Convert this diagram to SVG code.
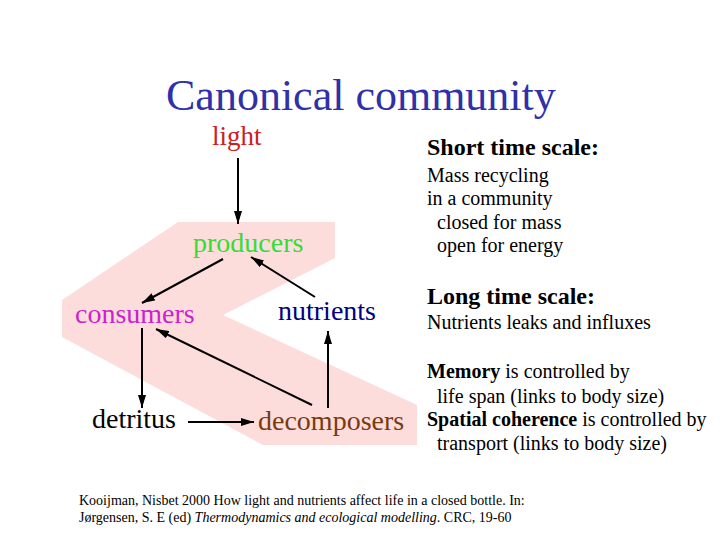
<svg xmlns="http://www.w3.org/2000/svg" width="720" height="540" viewBox="0 0 720 540" font-family="'Liberation Serif', 'Times New Roman', Times, 'DejaVu Serif', serif">
<defs>
<style>
text{font-family:'Liberation Serif','Times New Roman',Times,'DejaVu Serif',serif;}
.node{font-size:28px;}
.side{font-size:20px;fill:#000;}
.head{font-size:24px;font-weight:bold;fill:#000;}
.b{font-weight:bold;}
.ref{font-size:14px;fill:#000;}
.conn line{stroke:#000;stroke-width:2;marker-end:url(#ah);}
</style>
<marker id="ah" viewBox="0 0 13 8" refX="13" refY="4" markerWidth="13" markerHeight="8" markerUnits="userSpaceOnUse" orient="auto">
<path d="M0,0 L13,4 L0,8 Z" fill="#000"/>
</marker>
</defs>
<rect width="720" height="540" fill="#fff"/>
<polygon id="band" points="178,222 335,222 335,258 223,315 417,405 417,445 263,445 62,337 62,300" fill="#fddcdc"/>
<text x="166" y="110" font-size="44" fill="#3030a8">Canonical community</text>
<g id="light"><text x="212" y="145" style="font-size:27px" fill="#cc2020">light</text></g>
<g id="producers"><text class="node" x="193" y="252" fill="#33dd33">producers</text></g>
<g id="consumers"><text class="node" x="75" y="323" fill="#cc22cc">consumers</text></g>
<g id="nutrients"><text class="node" x="278" y="320" fill="#000080">nutrients</text></g>
<g id="detritus"><text class="node" x="92" y="428" fill="#000">detritus</text></g>
<g id="decomposers"><text class="node" x="258" y="430" fill="#7a3a10">decomposers</text></g>
<g class="conn" id="connectors">
<line x1="238" y1="158" x2="238" y2="224"/>
<line x1="223" y1="259" x2="142" y2="303"/>
<line x1="315" y1="297" x2="251" y2="257"/>
<line x1="142" y1="328" x2="142" y2="408"/>
<line x1="312" y1="405" x2="156" y2="329"/>
<line x1="328" y1="408" x2="328" y2="331"/>
<line x1="188" y1="422" x2="254" y2="422"/>
</g>
<g id="notes">
<text class="head" x="427" y="155">Short time scale:</text>
<text class="side" x="427" y="182">Mass recycling</text>
<text class="side" x="427" y="205">in a community</text>
<text class="side" x="437" y="229">closed for mass</text>
<text class="side" x="437" y="252">open for energy</text>
<text class="head" x="427" y="304">Long time scale:</text>
<text class="side" x="427" y="329">Nutrients leaks and influxes</text>
<text class="side" x="427" y="378"><tspan class="b">Memory</tspan> is controlled by</text>
<text class="side" x="437" y="403">life span (links to body size)</text>
<text class="side" x="427" y="426"><tspan class="b">Spatial coherence</tspan> is controlled by</text>
<text class="side" x="437" y="450">transport (links to body size)</text>
</g>
<g id="reference">
<text class="ref" x="79" y="505">Kooijman, Nisbet 2000 How light and nutrients affect life in a closed bottle.  In:</text>
<text class="ref" x="79" y="522">Jørgensen, S. E (ed) <tspan font-style="italic">Thermodynamics and ecological modelling</tspan>. CRC, 19-60</text>
</g>
</svg>
